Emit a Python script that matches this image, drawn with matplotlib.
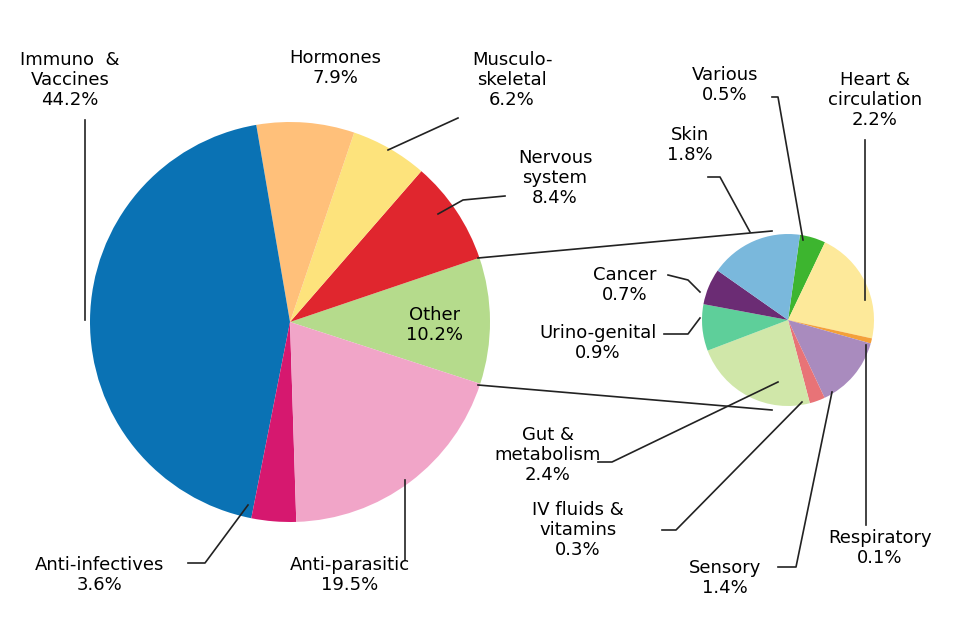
import matplotlib
matplotlib.use("Agg")
import matplotlib.pyplot as plt

main_labels = ["Other", "Nervous\nsystem", "Musculo-\nskeletal", "Hormones", "Immuno  &\nVaccines",
               "Anti-infectives", "Anti-parasitic"]
main_values = [10.2, 8.4, 6.2, 7.9, 44.2, 3.6, 19.5]
main_colors = ["#b5db8c", "#e0262e", "#fde37c", "#ffc07a", "#0a72b4", "#d6186f", "#f1a5c8"]

other_labels = ["Various", "Heart &\ncirculation", "Respiratory", "Sensory", "IV fluids &\nvitamins",
                "Gut &\nmetabolism", "Urino-genital", "Cancer", "Skin"]
other_values = [0.5, 2.2, 0.1, 1.4, 0.3, 2.4, 0.9, 0.7, 1.8]
other_colors = ["#3db52f", "#fde99a", "#f4a03a", "#a98bbe", "#e87377", "#d0e7a9", "#5ecf9a",
                "#6b2c74", "#7ab8dc"]

H = 640
def Y(y):
    return H - y

fig = plt.figure(figsize=(9.6, 6.4), dpi=100)
ax = fig.add_axes([0, 0, 1, 1])

ax.pie(main_values, colors=main_colors, startangle=-18, center=(290, Y(322)), radius=200,
       wedgeprops={"linewidth": 0})
ax.pie(other_values, colors=other_colors, startangle=82, counterclock=False,
       center=(788, Y(320)), radius=86, wedgeprops={"linewidth": 0})
# pie() resets limits, so set them afterwards
ax.set_xlim(0, 960)
ax.set_ylim(0, 640)
ax.set_aspect("equal")
ax.axis("off")

fs = 13
def lab(x, y, s, **kw):
    ax.text(x, Y(y), s, fontsize=fs, ha="center", va="center", linespacing=1.15, **kw)

def line(*pts):
    ax.plot([p[0] for p in pts], [Y(p[1]) for p in pts], color="#222222", lw=1.2)

# connectors between pies
line((478, 258), (772, 231))
line((478, 385), (772, 410))

lab(70, 80, f"{main_labels[4]}\n{main_values[4]}%")
line((85, 120), (85, 320))
lab(335, 68, f"{main_labels[3]}\n{main_values[3]}%")
lab(512, 80, f"{main_labels[2]}\n{main_values[2]}%")
line((458, 118), (388, 150))
lab(555, 178, f"{main_labels[1]}\n{main_values[1]}%")
line((505, 196), (463, 200), (438, 214))
lab(435, 325, f"{main_labels[0]}\n{main_values[0]}%")
lab(350, 575, f"{main_labels[6]}\n{main_values[6]}%")
line((405, 560), (405, 480))
lab(100, 575, f"{main_labels[5]}\n{main_values[5]}%")
line((188, 563), (205, 563), (248, 505))

lab(725, 85, f"{other_labels[0]}\n{other_values[0]}%")
line((772, 97), (778, 97), (803, 240))
lab(875, 100, f"{other_labels[1]}\n{other_values[1]}%")
line((865, 140), (865, 300))
lab(690, 145, f"{other_labels[8]}\n{other_values[8]}%")
line((708, 177), (720, 177), (750, 232))
lab(625, 285, f"{other_labels[7]}\n{other_values[7]}%")
line((668, 275), (688, 280), (700, 292))
lab(598, 343, f"{other_labels[6]}\n{other_values[6]}%")
line((664, 334), (688, 334), (700, 318))
lab(548, 455, f"{other_labels[5]}\n{other_values[5]}%")
line((598, 462), (612, 462), (778, 382))
lab(578, 530, f"{other_labels[4]}\n{other_values[4]}%")
line((662, 530), (676, 530), (802, 402))
lab(725, 578, f"{other_labels[3]}\n{other_values[3]}%")
line((778, 567), (796, 567), (832, 392))
lab(880, 548, f"{other_labels[2]}\n{other_values[2]}%")
line((866, 525), (866, 345))

fig.savefig("out.png", dpi=100)
